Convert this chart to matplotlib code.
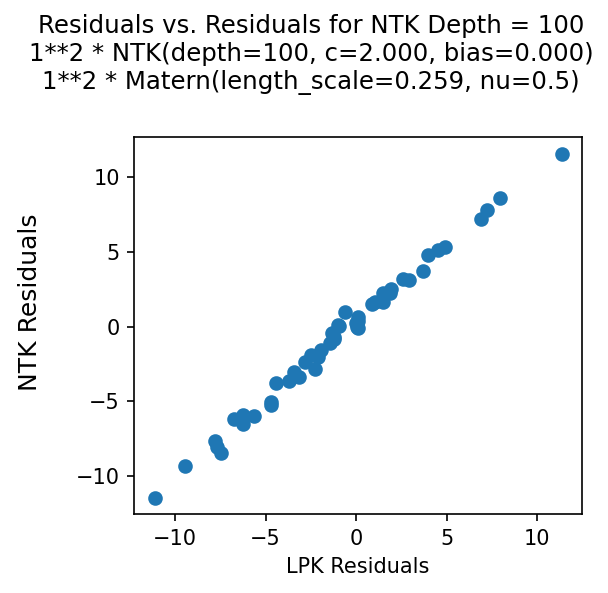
import matplotlib
matplotlib.use("Agg")
import matplotlib.pyplot as plt

lpk_residuals = [-11.12, -9.44, -7.80, -7.70, -7.48, -6.75, -6.23, -6.27, -5.64,
                 -4.70, -4.70, -4.41, -3.71, -3.41, -3.14, -2.82, -2.49, -2.30,
                 -1.95, -2.10, -1.44, -1.34, -1.20, -0.92, -0.61, -0.98, -1.25,
                 0.13, 0.09, 0.04, 0.02, 0.10, 0.87, 1.05, 1.51, 1.47, 1.88, 1.94,
                 2.58, 2.95, 3.67, 4.00, 4.55, 4.89, 6.88, 7.23, 7.93, 11.36]
ntk_residuals = [-11.48, -9.32, -7.62, -8.03, -8.43, -6.17, -5.91, -6.51, -5.97,
                 -5.02, -5.24, -3.77, -3.63, -3.01, -3.34, -2.34, -1.89, -2.85,
                 -1.56, -2.05, -1.07, -0.44, -0.70, 0.05, 0.96, 0.09, -0.80,
                 0.63, -0.11, 0.00, 0.25, 0.40, 1.52, 1.67, 2.27, 1.65, 2.23, 2.50,
                 3.21, 3.15, 3.71, 4.78, 5.11, 5.33, 7.18, 7.81, 8.59, 11.53]

title_lines = ["Residuals vs. Residuals for NTK Depth = 100",
               "1**2 * NTK(depth=100, c=2.000, bias=0.000)",
               "1**2 * Matern(length_scale=0.259, nu=0.5)"]

fig = plt.figure(figsize=(608 / 150, 593 / 150), dpi=150)
ax = fig.add_axes([0.221, 0.1332, 0.736, 0.6363])
ax.scatter(lpk_residuals, ntk_residuals, color="#1f77b4")
ax.set_xlim(-12.26, 12.48)
ax.set_ylim(-12.53, 12.71)
ax.set_xlabel("LPK Residuals")
fig.text(30 / 608, 1 - 302 / 593, "NTK Residuals", rotation=90, ha="center",
         va="center", fontsize=12)
fig.text(311 / 608, 1 - 14 / 593, "\n".join(title_lines), ha="center", va="top",
         fontsize=11.7)
fig.savefig("out.png", dpi=150)
